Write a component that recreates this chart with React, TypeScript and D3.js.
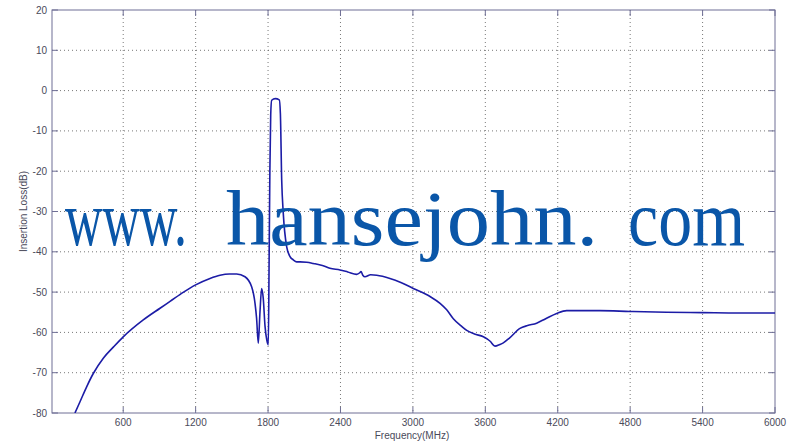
import React from "react";
import * as d3 from "d3";

const freqMHz = [200, 242, 297, 352, 435, 520, 600, 766, 905, 988, 1100, 1200, 1319, 1402, 1480, 1540, 1609, 1664, 1692, 1705, 1719, 1733, 1747, 1760, 1775, 1790, 1802, 1808, 1815, 1822, 1830, 1860, 1893, 1902, 1913, 1926, 1954, 1982, 2009, 2037, 2065, 2120, 2175, 2250, 2313, 2396, 2460, 2534, 2560, 2570, 2585, 2603, 2650, 2700, 2810, 2900, 3003, 3142, 3225, 3280, 3335, 3400, 3446, 3510, 3584, 3640, 3680, 3720, 3749, 3800, 3887, 3950, 4025, 4100, 4191, 4274, 4400, 4550, 4800, 5100, 5400, 5700, 6000];
const lossDB = [-80, -77.2, -73.5, -70.2, -66.4, -63.6, -61.1, -56.9, -54.0, -52.3, -50.0, -48.2, -46.6, -45.8, -45.5, -45.5, -46.2, -48.7, -52.8, -56.5, -62.7, -55.0, -49.1, -51.5, -58.5, -62.0, -63.1, -45.0, -20.0, -6.0, -2.4, -2.0, -2.3, -5.6, -22.2, -30.4, -38.7, -41.2, -42.0, -42.5, -42.5, -42.6, -42.9, -43.4, -44.1, -44.5, -45.0, -45.6, -45.2, -44.9, -45.8, -46.2, -45.7, -45.8, -46.6, -47.6, -49.1, -51.1, -52.8, -54.4, -56.6, -58.4, -59.5, -60.4, -61.1, -62.2, -63.4, -63.0, -62.6, -61.4, -59.0, -58.3, -57.7, -56.6, -55.3, -54.6, -54.6, -54.6, -54.8, -55.0, -55.1, -55.2, -55.2];

const xTicks = [600, 1200, 1800, 2400, 3000, 3600, 4200, 4800, 5400, 6000];
const yTicks = [20, 10, 0, -10, -20, -30, -40, -50, -60, -70, -80];

const W = 800;
const H = 448;
const L = 52, R = 775, T = 10, B = 413;

export default function App() {
  const x = d3.scaleLinear().domain([10, 6000]).range([L, R]);
  const y = d3.scaleLinear().domain([-80, 20]).range([B, T]);
  const pts = freqMHz.map((f, i) => [f, lossDB[i]] as [number, number]);
  const line = d3
    .line<[number, number]>()
    .x((d) => x(d[0]))
    .y((d) => y(d[1]))
    .curve(d3.curveMonotoneX);
  const axisColor = "#6f6f95";
  const textColor = "#4a4a5a";
  const font = "'Liberation Sans', Arial, sans-serif";
  return (
    <svg
      width={W}
      height={H}
      style={{ position: "absolute", left: 0, top: 0, background: "#fff" }}
      xmlns="http://www.w3.org/2000/svg"
    >
      <rect x={0} y={0} width={W} height={H} fill="#fff" />
      {/* grid */}
      {yTicks
        .filter((t) => t !== 20 && t !== -80)
        .map((t) => (
          <line key={"gy" + t} x1={L} x2={R} y1={y(t)} y2={y(t)} stroke="#555" strokeWidth={0.8} strokeDasharray="1,3" />
        ))}
      {xTicks
        .filter((t) => t !== 6000)
        .map((t) => (
          <line key={"gx" + t} x1={x(t)} x2={x(t)} y1={T} y2={B} stroke="#555" strokeWidth={0.8} strokeDasharray="1,3" />
        ))}
      {/* frame */}
      <rect x={L} y={T} width={R - L} height={B - T} fill="none" stroke={axisColor} strokeWidth={1} />
      {/* ticks */}
      {xTicks.map((t) => (
        <g key={"tx" + t}>
          <line x1={x(t)} x2={x(t)} y1={B} y2={B - 6} stroke={axisColor} />
          <line x1={x(t)} x2={x(t)} y1={T} y2={T + 6} stroke={axisColor} />
          <text x={x(t)} y={B + 13} fontSize={10} fontFamily={font} fill={textColor} textAnchor="middle">
            {t}
          </text>
        </g>
      ))}
      {yTicks.map((t) => (
        <g key={"ty" + t}>
          <line x1={L} x2={L + 6} y1={y(t)} y2={y(t)} stroke={axisColor} />
          <line x1={R} x2={R - 6} y1={y(t)} y2={y(t)} stroke={axisColor} />
          <text x={L - 5} y={y(t) + 3.5} fontSize={10} fontFamily={font} fill={textColor} textAnchor="end">
            {t}
          </text>
        </g>
      ))}
      {/* curve */}
      <defs>
        <clipPath id="plotClip">
          <rect x={L} y={T} width={R - L} height={B - T} />
        </clipPath>
      </defs>
      <path d={line(pts) ?? ""} fill="none" stroke="#1c1ca6" strokeWidth={1.6} clipPath="url(#plotClip)" />
      {/* axis labels */}
      <text x={412} y={439} fontSize={10} fontFamily={font} fill={textColor} textAnchor="middle">
        Frequency(MHz)
      </text>
      <text
        transform={`translate(27, ${(T + B) / 2}) rotate(-90)`}
        fontSize={10}
        fontFamily={font}
        fill={textColor}
        textAnchor="middle"
      >
        Insertion Loss(dB)
      </text>
      {/* watermark */}
      <g fill="#0a56a8" fontFamily="'Liberation Serif', 'DejaVu Serif', serif" fontSize={78}>
        <text x={65} y={245} textLength={122} lengthAdjust="spacingAndGlyphs">www.</text>
        <text x={226} y={245} textLength={372} lengthAdjust="spacingAndGlyphs">hansejohn.</text>
        <text x={628} y={245} textLength={117} lengthAdjust="spacingAndGlyphs">com</text>
      </g>
    </svg>
  );
}
